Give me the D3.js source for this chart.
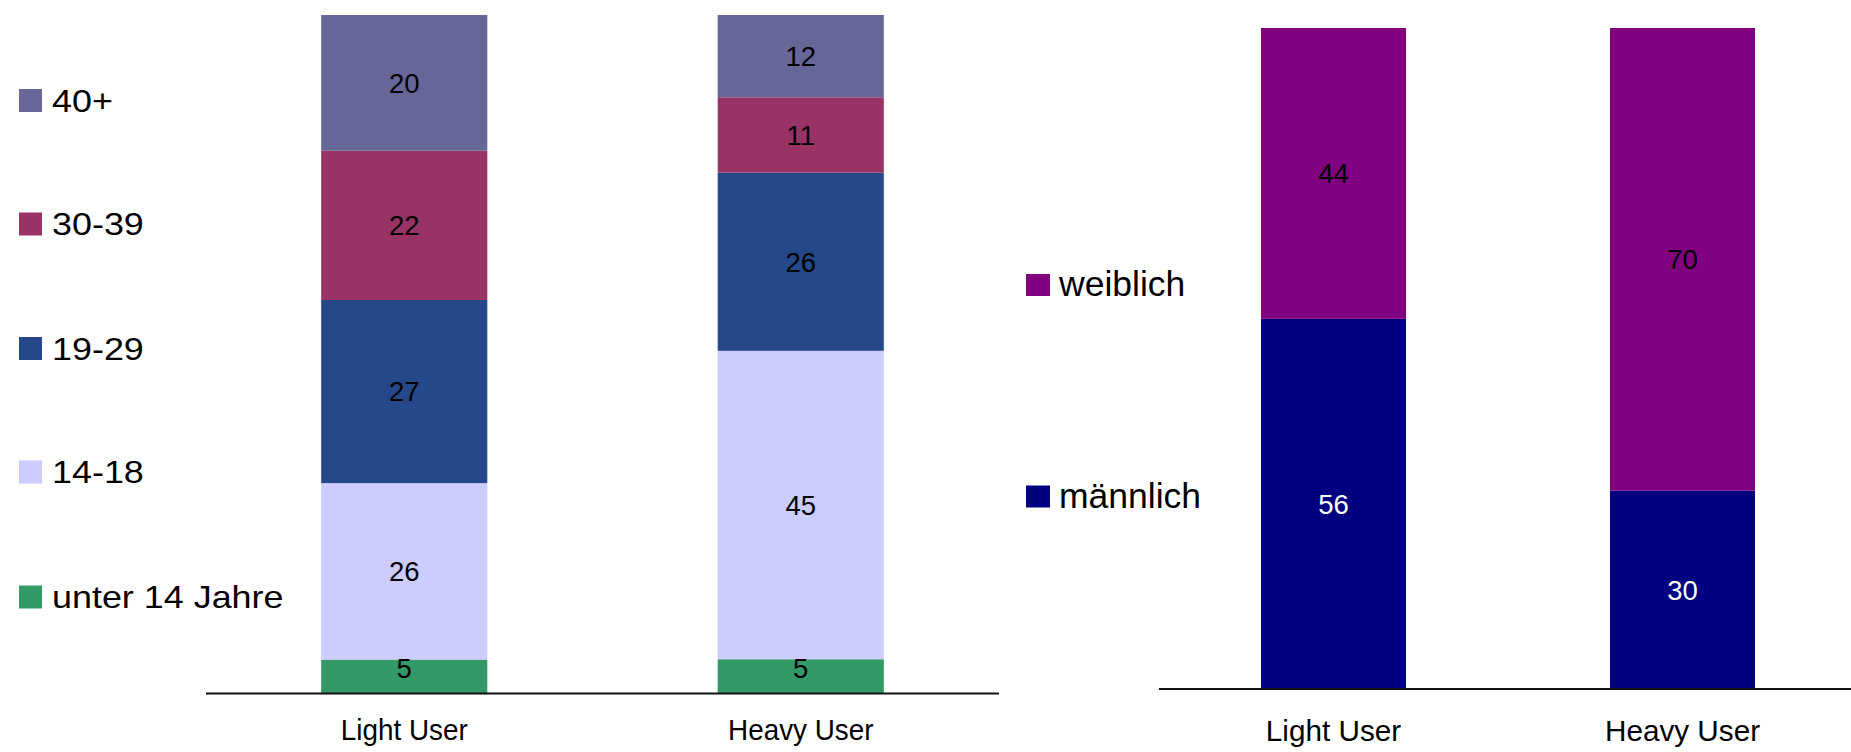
<!DOCTYPE html>
<html>
<head>
<meta charset="utf-8">
<script src="https://cdn.jsdelivr.net/npm/d3@7"></script>
<style>
  html, body { margin: 0; padding: 0; background: #fff; }
  svg { display: block; font-family: "Liberation Sans", Arial, sans-serif; }
</style>
</head>
<body>
<svg id="chart" width="1851" height="752"></svg>
<script>
// User groups shown on both charts
const userGroups = ["Light User", "Heavy User"];

// Age breakdown (percent), bottom to top
const ageGroups = ["unter 14 Jahre", "14-18", "19-29", "30-39", "40+"];
const ageLight = [5, 26, 27, 22, 20];
const ageHeavy = [5, 45, 26, 11, 12];
const ageColors = ["#339966", "#CCCCFF", "#25488A", "#993366", "#666699"];

// Gender breakdown (percent), bottom to top
const genderGroups = ["männlich", "weiblich"];
const genderLight = [56, 44];
const genderHeavy = [30, 70];
const genderColors = ["#000080", "#800080"];
const genderLabelColors = ["#ffffff", "#000000"];

const svg = d3.select("#chart");

function rows(keys, seriesByGroup) {
  return userGroups.map((g, i) => {
    const r = { group: g };
    keys.forEach((k, j) => { r[k] = seriesByGroup[i][j]; });
    return r;
  });
}

function drawStacked(cfg) {
  const data = rows(cfg.keys, cfg.values);
  const x = d3.scaleBand().domain(userGroups).range(cfg.xRange)
    .paddingInner(cfg.padding).paddingOuter(cfg.padding / 2);
  const y = d3.scaleLinear().domain([0, 1]).range(cfg.yRange);
  const stacked = d3.stack().keys(cfg.keys).offset(d3.stackOffsetExpand)(data);

  const g = svg.append("g");
  const layer = g.selectAll("g.layer").data(stacked).join("g")
    .attr("class", "layer")
    .attr("fill", (d, i) => cfg.colors[i]);

  layer.selectAll("rect").data(d => d).join("rect")
    .attr("x", d => x(d.data.group))
    .attr("width", x.bandwidth())
    .attr("y", d => y(d[1]))
    .attr("height", d => y(d[0]) - y(d[1]));

  // value labels, kept clear of the baseline on thin segments
  stacked.forEach((s, i) => {
    g.selectAll(null).data(s).join("text")
      .attr("x", d => x(d.data.group) + x.bandwidth() / 2)
      .attr("y", d => {
        const mid = (y(d[0]) + y(d[1])) / 2;
        return Math.min(mid, cfg.yRange[0] - cfg.minLabelGap) + cfg.labelSize * 0.36;
      })
      .attr("text-anchor", "middle")
      .attr("font-size", cfg.labelSize)
      .attr("fill", cfg.labelColors ? cfg.labelColors[i] : "#000")
      .text(d => d.data[s.key]);
  });

  // baseline
  g.append("line")
    .attr("x1", cfg.axisX[0]).attr("x2", cfg.axisX[1])
    .attr("y1", cfg.yRange[0]).attr("y2", cfg.yRange[0])
    .attr("stroke", "#111").attr("stroke-width", 2);

  // category labels
  const xAxis = g.append("g")
    .attr("transform", `translate(0,${cfg.yRange[0]})`)
    .call(d3.axisBottom(x).tickSize(0).tickPadding(0));
  xAxis.select(".domain").remove();
  xAxis.selectAll("text")
    .attr("font-family", null)
    .attr("font-size", cfg.tickSize)
    .attr("fill", "#000")
    .attr("dy", null)
    .attr("y", cfg.tickBaseline)
    .attr("transform", `scale(${cfg.tickScaleX},1)`);

  return { x, y };
}

// Age chart
drawStacked({
  keys: ageGroups,
  values: [ageLight, ageHeavy],
  colors: ageColors,
  xRange: [206, 999],
  axisX: [206, 999],
  padding: 0.581,
  yRange: [693.5, 15],
  labelSize: 27.5,
  minLabelGap: 25,
  tickSize: 29,
  tickScaleX: 0.96,
  tickBaseline: 46.5
});

// Gender chart
drawStacked({
  keys: genderGroups,
  values: [genderLight, genderHeavy],
  colors: genderColors,
  labelColors: genderLabelColors,
  xRange: [1159, 1857],
  axisX: [1159, 1851],
  padding: 0.5845,
  yRange: [689, 28],
  labelSize: 27.5,
  minLabelGap: 0,
  tickSize: 30,
  tickScaleX: 0.99,
  tickBaseline: 52
});

// Legend: age groups (top entry is the oldest group)
const ageLegendY = [100.5, 224, 348.5, 472, 597];
const ageLegend = svg.append("g");
ageGroups.slice().reverse().forEach((name, i) => {
  const color = ageColors[ageGroups.length - 1 - i];
  const cy = ageLegendY[i];
  ageLegend.append("rect")
    .attr("x", 19).attr("y", cy - 11.5).attr("width", 23).attr("height", 23)
    .attr("fill", color);
  ageLegend.append("text")
    .attr("transform", `translate(52,${cy + 11.3}) scale(1.14,1)`)
    .attr("font-size", 31.5)
    .attr("fill", "#000")
    .text(name);
});

// Legend: gender
const genderLegendY = [285, 496.5];
const genderLegend = svg.append("g");
genderGroups.slice().reverse().forEach((name, i) => {
  const color = genderColors[genderGroups.length - 1 - i];
  const cy = genderLegendY[i];
  genderLegend.append("rect")
    .attr("x", 1026).attr("y", cy - 11).attr("width", 24).attr("height", 22)
    .attr("fill", color);
  genderLegend.append("text")
    .attr("x", 1059).attr("y", cy + 11)
    .attr("font-size", 35.5)
    .attr("fill", "#000")
    .text(name);
});
</script>
</body>
</html>
